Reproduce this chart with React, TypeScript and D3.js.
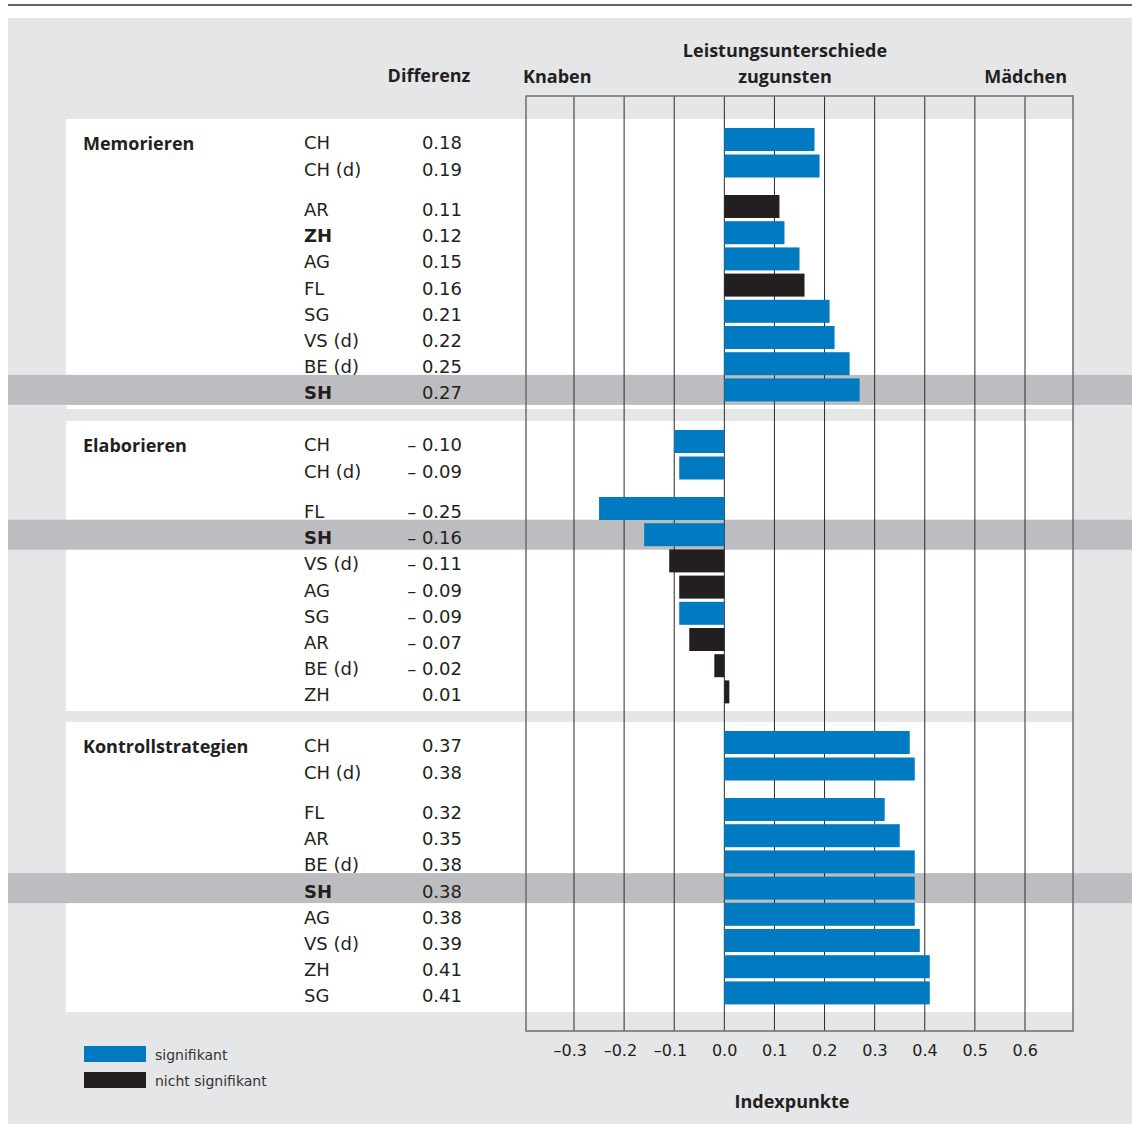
import React from "react";
import * as d3 from "d3";

const groups = ["Memorieren", "Elaborieren", "Kontrollstrategien"];

const memLabels = ["CH", "CH (d)", "AR", "ZH", "AG", "FL", "SG", "VS (d)", "BE (d)", "SH"];
const memValues = [0.18, 0.19, 0.11, 0.12, 0.15, 0.16, 0.21, 0.22, 0.25, 0.27];
const memSig = [true, true, false, true, true, false, true, true, true, true];

const elaLabels = ["CH", "CH (d)", "FL", "SH", "VS (d)", "AG", "SG", "AR", "BE (d)", "ZH"];
const elaValues = [-0.1, -0.09, -0.25, -0.16, -0.11, -0.09, -0.09, -0.07, -0.02, 0.01];
const elaSig = [true, true, true, true, false, false, true, false, false, false];

const konLabels = ["CH", "CH (d)", "FL", "AR", "BE (d)", "SH", "AG", "VS (d)", "ZH", "SG"];
const konValues = [0.37, 0.38, 0.32, 0.35, 0.38, 0.38, 0.38, 0.39, 0.41, 0.41];
const konSig = [true, true, true, true, true, true, true, true, true, true];

const boldLabels = [["ZH", "SH"], ["SH"], ["SH"]];
const highlight = "SH";

const ticks = [-0.3, -0.2, -0.1, 0, 0.1, 0.2, 0.3, 0.4, 0.5, 0.6];

const groupData = [
  { labels: memLabels, values: memValues, sig: memSig },
  { labels: elaLabels, values: elaValues, sig: elaSig },
  { labels: konLabels, values: konValues, sig: konSig },
];

const BLUE = "#007bc2";
const BLACK = "#231f20";
const PANEL = "#e5e6e8";
const BAND = "#bcbdc1";
const TEXT = "#231f20";
const FONT_BOLD = "'Open Sans', 'Noto Sans', sans-serif";
const FONT = "'DejaVu Sans', 'Open Sans', sans-serif";

function fmtDiff(v: number) {
  if (v < 0) return "\u2013 " + Math.abs(v).toFixed(2);
  return v.toFixed(2);
}
function fmtTick(v: number) {
  if (v < 0) return "\u2013" + Math.abs(v).toFixed(1);
  return v.toFixed(1);
}

export default function App() {
  const W = 1132;
  const H = 1124;
  const x = d3.scaleLinear().domain([-0.3, 0.6]).range([574, 1025]);
  const frameL = 526;
  const frameR = 1073;
  const frameT = 96;
  const frameB = 1031;
  const boxTops = [119, 421, 722];
  const boxH = 290;
  const rowOffset = (i: number) => (i === 0 ? 0 : i === 1 ? 26.5 : 67 + (i - 2) * 26.2);
  const firstRow = 20.5;
  const barH = 23;

  return (
    <svg
      width={W}
      height={H}
      style={{ position: "absolute", left: 0, top: 0, display: "block" }}
      fontFamily={FONT}
    >
      <rect x={0} y={0} width={W} height={H} fill="#ffffff" />
      <line x1={8} x2={W} y1={5} y2={5} stroke="#333" strokeWidth={1.5} />
      <rect x={8} y={18} width={W - 8} height={H - 18} fill={PANEL} />

      {/* white group boxes */}
      {boxTops.map((t, g) => (
        <rect key={"box" + g} x={66} y={t} width={frameR - 66} height={boxH} fill="#ffffff" />
      ))}

      {/* highlight bands */}
      {groupData.map((gd, g) =>
        gd.labels.map((l, i) =>
          l === highlight ? (
            <rect
              key={"band" + g}
              x={8}
              y={boxTops[g] + firstRow + rowOffset(i) - 15}
              width={W - 8}
              height={30}
              fill={BAND}
            />
          ) : null
        )
      )}

      {/* grid lines */}
      {ticks.map((t) => (
        <line
          key={"g" + t}
          x1={x(t)}
          x2={x(t)}
          y1={frameT}
          y2={frameB}
          stroke="#2b2b2b"
          strokeWidth={1}
        />
      ))}

      {/* bars */}
      {groupData.map((gd, g) =>
        gd.values.map((v, i) => {
          const cy = boxTops[g] + firstRow + rowOffset(i);
          return (
            <rect
              key={"bar" + g + "-" + i}
              x={Math.min(x(0), x(v))}
              y={cy - barH / 2}
              width={Math.abs(x(v) - x(0))}
              height={barH}
              fill={gd.sig[i] ? BLUE : BLACK}
            />
          );
        })
      )}

      {/* frame */}
      <rect
        x={frameL}
        y={frameT}
        width={frameR - frameL}
        height={frameB - frameT}
        fill="none"
        stroke="#6d6e70"
        strokeWidth={1.5}
      />

      {/* row texts */}
      {groupData.map((gd, g) => (
        <g key={"txt" + g} fill={TEXT}>
          <text
            x={83}
            y={boxTops[g] + firstRow + 10}
            fontSize={18}
            fontWeight="bold"
            fontFamily={FONT_BOLD}
          >
            {groups[g]}
          </text>
          {gd.labels.map((l, i) => {
            const cy = boxTops[g] + firstRow + rowOffset(i) + 9.5;
            const bold = boldLabels[g].includes(l);
            return (
              <g key={"r" + i}>
                <text x={304} y={cy} fontSize={18} fontWeight={bold ? "bold" : "normal"}>
                  {l}
                </text>
                <text x={462} y={cy} fontSize={18} textAnchor="end">
                  {fmtDiff(gd.values[i])}
                </text>
              </g>
            );
          })}
        </g>
      ))}

      {/* headers */}
      <g fill={TEXT} fontWeight="bold" fontSize={18} fontFamily={FONT_BOLD}>
        <text x={429} y={82} textAnchor="middle">Differenz</text>
        <text x={523} y={83}>Knaben</text>
        <text x={785} y={57} textAnchor="middle">Leistungsunterschiede</text>
        <text x={785} y={83} textAnchor="middle">zugunsten</text>
        <text x={1067} y={83} textAnchor="end">Mädchen</text>
      </g>

      {/* tick labels */}
      <g fill={TEXT} fontSize={16}>
        {ticks.map((t) => (
          <text key={"tl" + t} x={x(t) + 13} y={1056} textAnchor="end">
            {fmtTick(t)}
          </text>
        ))}
      </g>
      <text
        x={792}
        y={1108}
        textAnchor="middle"
        fontSize={18}
        fontWeight="bold"
        fill={TEXT}
        fontFamily={FONT_BOLD}
      >
        Indexpunkte
      </text>

      {/* legend */}
      <rect x={84} y={1046} width={62} height={16} fill={BLUE} />
      <rect x={84} y={1072} width={62} height={16} fill={BLACK} />
      <text x={155} y={1060} fontSize={14} fill="#333">signifikant</text>
      <text x={155} y={1086} fontSize={14} fill="#333">nicht signifikant</text>
    </svg>
  );
}
